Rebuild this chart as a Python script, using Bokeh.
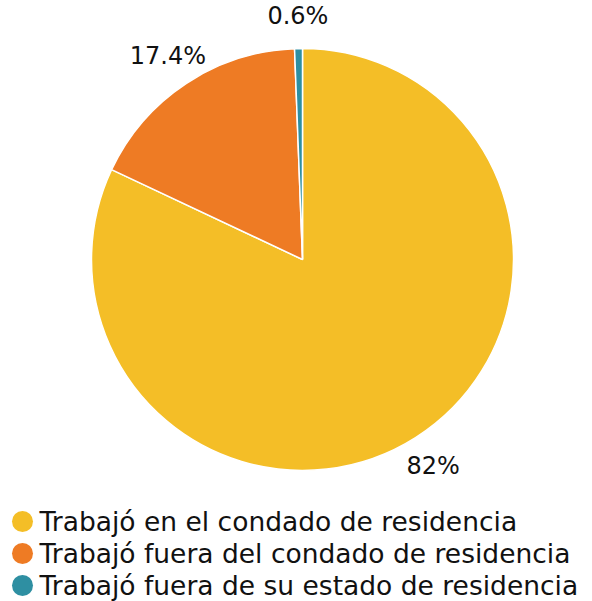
import numpy as np
from bokeh.plotting import figure
from bokeh.models import Range1d, ColumnDataSource
from bokeh.core.properties import value
from bokeh.embed import file_html
from bokeh.resources import INLINE

categories = ["Trabajó en el condado de residencia",
              "Trabajó fuera del condado de residencia",
              "Trabajó fuera de su estado de residencia"]
values = [82.0, 17.4, 0.6]
labels = ["82%", "17.4%", "0.6%"]
colors = ["#F4BE27", "#EE7B24", "#2E8FA2"]

FONT = "DejaVu Sans"
W, H = 592, 601
p = figure(width=W, height=H, output_backend="svg", toolbar_location=None,
           x_range=Range1d(0, W), y_range=Range1d(0, H), min_border=0)
p.axis.visible = False
p.grid.visible = False
p.outline_line_color = None

cx, cy, r = 302, 601 - 259, 211
vals = np.array(values)
frac = vals / vals.sum()
cum = np.concatenate([[0], np.cumsum(frac)])
start = np.pi / 2 - 2 * np.pi * cum[:-1]
end = np.pi / 2 - 2 * np.pi * cum[1:]
src = ColumnDataSource(dict(start=start, end=end, color=colors))
p.wedge(x=cx, y=cy, radius=r, start_angle="start", end_angle="end",
        direction="clock", fill_color="color", line_color="white",
        line_width=1.5, source=src)

mid = np.pi / 2 - 2 * np.pi * (cum[:-1] + cum[1:]) / 2
lr = 244
lsrc = ColumnDataSource(dict(x=cx + lr * np.cos(mid), y=cy + lr * np.sin(mid), t=labels))
p.text(x="x", y="y", text="t", source=lsrc, text_align="center",
       text_baseline="middle", text_font=value(FONT), text_font_size="24px",
       text_color="#111111")

ly = [601 - 521 - 32 * i for i in range(len(categories))]
p.scatter(x=[22] * len(categories), y=ly, size=21, color=colors, line_color=None)
p.text(x=[39] * len(categories), y=ly, text=categories, text_baseline="middle",
       text_font=value(FONT), text_font_size="26.5px", text_color="#111111")

open("out.html", "w").write(file_html(p, INLINE))
